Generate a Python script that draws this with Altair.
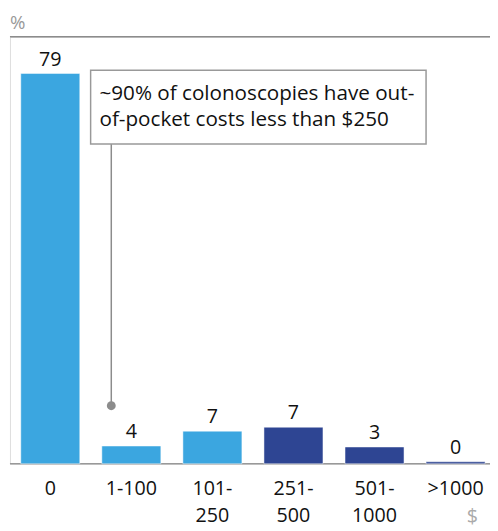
import altair as alt
import pandas as pd

# ---- data ----
categories = ["0", "1-100", "101-|250", "251-|500", "501-|1000", ">1000"]
values = [79.0, 3.6, 6.6, 7.4, 3.4, 0.4]
value_labels = ["79", "4", "7", "7", "3", "0"]
groups = ["low", "low", "low", "high", "high", "high"]
annotation_lines = ["~90% of colonoscopies have out-", "of-pocket costs less than $250"]
unit_y = "%"
unit_x = "$"

df = pd.DataFrame({"cat": categories, "value": values, "label": value_labels, "group": groups})

W, H = 488, 434
FONT = "Open Sans"
LIGHT = "#3BA6E0"
DARK = "#2E4593"
GRAY = "#8c8c8c"

x = alt.X("cat:N", sort=categories,
          scale=alt.Scale(range=[3, 491], paddingInner=0.272, paddingOuter=0.097),
          axis=alt.Axis(title=None, domain=False, ticks=False, labelAngle=0,
                        labelExpr="split(datum.label, '|')", labelFontSize=20,
                        labelFont=FONT, labelColor="#111", labelPadding=15,
                        labelLineHeight=28, labelBaseline="top"))
y = alt.Y("value:Q", scale=alt.Scale(domain=[0, 86.4], nice=False), axis=None)
color = alt.Color("group:N", scale=alt.Scale(domain=["low", "high"], range=[LIGHT, DARK]), legend=None)

base = alt.Chart(df)
bars = base.mark_bar(stroke="white", strokeWidth=0.5).encode(x=x, y=y, color=color)
labels = base.mark_text(dy=-8, baseline="alphabetic", font=FONT, fontSize=20, color="#111").encode(
    x=x, y=y, text="label:N")

one = alt.Data(values=[{"a": 1}])
top_line = alt.Chart(one).mark_rule(color=GRAY, strokeWidth=1.5).encode(
    x=alt.value(0), x2=alt.value(W), y=alt.value(0))
axis_line = alt.Chart(one).mark_rule(color="#999999", strokeWidth=1.5).encode(
    x=alt.value(0), x2=alt.value(W), y=alt.value(H))
pct = alt.Chart(one).mark_text(align="left", baseline="alphabetic", font=FONT, fontSize=19,
                               color="#999999").encode(x=alt.value(0), y=alt.value(-8),
                                                       text=alt.value(unit_y))
dollar = alt.Chart(one).mark_text(align="center", baseline="alphabetic", font=FONT, fontSize=20,
                                  color="#aaaaaa").encode(x=alt.value(470), y=alt.value(494),
                                                          text=alt.value(unit_x))
connector = alt.Chart(one).mark_rule(color=GRAY, strokeWidth=1.5).encode(
    x=alt.value(103), y=alt.value(109), y2=alt.value(375))
dot = alt.Chart(one).mark_point(filled=True, shape="circle", size=81, color=GRAY, opacity=1).encode(
    x=alt.value(103), y=alt.value(375))
box = alt.Chart(one).mark_rect(fill="white", stroke="#999999", strokeWidth=1.5).encode(
    x=alt.value(82), x2=alt.value(423), y=alt.value(34), y2=alt.value(109))
ann = alt.Chart(one).mark_text(align="left", baseline="alphabetic", font=FONT, fontSize=21,
                               color="#111", lineHeight=27).encode(
    x=alt.value(91), y=alt.value(64), text=alt.value(annotation_lines))

chart = alt.layer(top_line, axis_line, bars, labels, connector, dot, box, ann, pct, dollar).properties(
    width=W, height=H,
    autosize=alt.AutoSizeParams(type="none"),
    padding={"left": 2, "top": 25, "right": 0, "bottom": 64},
).configure_view(stroke=None).configure(background="white")

chart.save("out.html", embed_options={"renderer": "svg", "actions": False})
